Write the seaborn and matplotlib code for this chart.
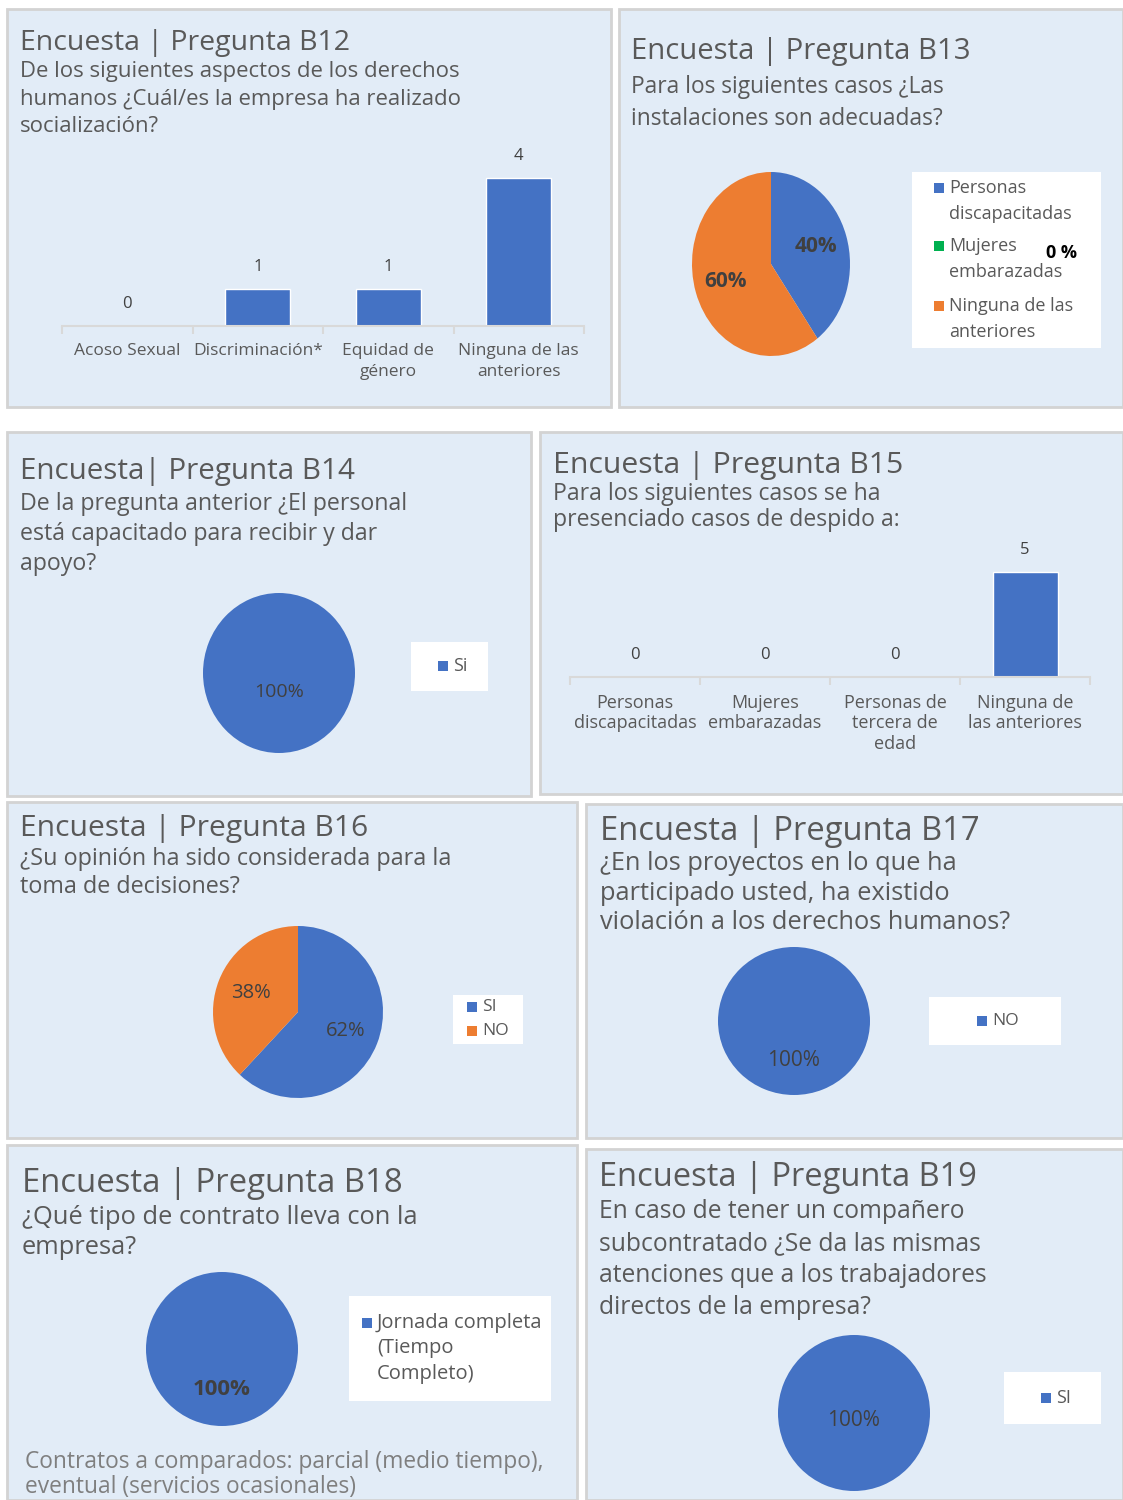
import matplotlib
matplotlib.use("Agg")
import matplotlib.pyplot as plt
import seaborn as sns
import numpy as np
from matplotlib.patches import Rectangle

# ---- datos ----
b12_categories = ["Acoso Sexual", "Discriminación*", "Equidad de\ngénero", "Ninguna de las\nanteriores"]
b12_values = [0, 1, 1, 4]

b13_labels = ["Personas\ndiscapacitadas", "Mujeres\nembarazadas", "Ninguna de las\nanteriores"]
b13_values = [40, 0, 60]

b14_labels = ["Si"]
b14_values = [100]

b15_categories = ["Personas\ndiscapacitadas", "Mujeres\nembarazadas", "Personas de\ntercera de\nedad", "Ninguna de\nlas anteriores"]
b15_values = [0, 0, 0, 5]

b16_labels = ["SI", "NO"]
b16_values = [62, 38]

b17_labels = ["NO"]
b17_values = [100]

b18_labels = ["Jornada completa\n(Tiempo\nCompleto)"]
b18_values = [100]

b19_labels = ["SI"]
b19_values = [100]

W, H = 1123, 1500
BLUE, ORANGE, GREEN = "#4472c4", "#ed7d31", "#00b050"
PANEL = "#e2ecf7"
EDGE = "#d3d3d3"
TXT = "#595959"
AXC = "#d9d9d9"

sns.set_theme(style="white")
plt.rcParams["font.family"] = ["Open Sans", "DejaVu Sans"]

fig = plt.figure(figsize=(W / 100, H / 100), dpi=100)
fig.patch.set_facecolor("white")


def fr(x0, y0, x1, y1):
    return [x0 / W, 1 - y1 / H, (x1 - x0) / W, (y1 - y0) / H]


def ftext(x, y, s, **kw):
    kw.setdefault("color", TXT)
    fig.text(x / W, 1 - y / H, s, **kw)


def box(x0, y0, x1, y1, face, edge="none", lw=0):
    fig.add_artist(Rectangle((x0 / W, 1 - y1 / H), (x1 - x0) / W, (y1 - y0) / H,
                             transform=fig.transFigure, facecolor=face,
                             edgecolor=edge, linewidth=lw, zorder=0))


def heading(x, ty, title, tsize, lines, sy, step, ssize):
    ftext(x, ty + 3, title, fontsize=tsize, va="center")
    for i, line in enumerate(lines):
        ftext(x, sy + 2 + i * step, line, fontsize=ssize, va="center")


def bar_chart(rect, cats, vals, ymax, fsize=12, pad=10, linespacing=1.2):
    ax = fig.add_axes(fr(*rect))
    sns.barplot(x=cats, y=vals, ax=ax, color=BLUE, saturation=1, width=0.5)
    ax.set_facecolor("none")
    ax.set_ylim(0, ymax)
    ax.set_xlim(-0.5, len(cats) - 0.5)
    for s in ["top", "right", "left"]:
        ax.spines[s].set_visible(False)
    ax.spines["bottom"].set_color(AXC)
    ax.spines["bottom"].set_linewidth(1.5)
    ax.set_yticks([])
    ax.set_xticks(np.arange(len(cats) + 1) - 0.5, minor=True)
    ax.tick_params(axis="x", which="major", length=0, labelsize=fsize, labelcolor=TXT, pad=pad)
    ax.tick_params(axis="x", which="minor", length=6, width=1.5, color=AXC, bottom=True)
    for t in ax.get_xticklabels():
        t.set_linespacing(linespacing)
    ax.bar_label(ax.containers[0], padding=10, fontsize=12, color="#404040")
    ax.set_xlabel("")
    ax.set_ylabel("")
    return ax


def pie_chart(cx, cy, rx, ry, vals, colors, pctdist, fsize=13, bold=False):
    ax = fig.add_axes(fr(cx - rx, cy - ry, cx + rx, cy + ry))
    wedges, _, _ = ax.pie(vals, colors=colors, startangle=90, counterclock=False,
                          autopct=lambda p: f"{p:.0f}%" if p > 0 else "",
                          pctdistance=pctdist, wedgeprops=dict(linewidth=0),
                          textprops=dict(color="#404040", fontsize=fsize,
                                         fontweight="bold" if bold else "normal"))
    ax.set_aspect("auto")
    ax.set_xlim(-1, 1)
    ax.set_ylim(-1, 1)
    return wedges


def legend(rect, mx, ys, labels, colors, fsize, step=24):
    # recuadro blanco con marcador cuadrado alineado a la primera línea
    box(*rect, face="white")
    for y, lab, c in zip(ys, labels, colors):
        box(mx, y - 5, mx + 10, y + 5, face=c)
        for i, line in enumerate(lab.split("\n")):
            ftext(mx + 15, y + i * step, line, fontsize=fsize, va="center")


# ---- paneles ----
panels = [(7, 9, 611, 407), (619, 9, 1123, 407), (7, 432, 531, 796), (540, 432, 1123, 794),
          (7, 802, 577, 1138), (586, 804, 1123, 1138), (7, 1145, 577, 1500), (586, 1149, 1123, 1500)]
for p in panels:
    box(*p, face=PANEL, edge=EDGE, lw=2)

# B12
heading(20, 40, "Encuesta | Pregunta B12", 20.5,
        ["De los siguientes aspectos de los derechos",
         "humanos ¿Cuál/es la empresa ha realizado",
         "socialización?"], 70, 27, 15.9)
bar_chart((62, 140, 584, 326), b12_categories, b12_values, 4 * 186 / 148,
          fsize=12.5, pad=12, linespacing=1.41)

# B13
heading(631, 48, "Encuesta | Pregunta B13", 21.1,
        ["Para los siguientes casos ¿Las", "instalaciones son adecuadas?"], 85, 32, 16.4)
pie_chart(771, 264, 79, 92, b13_values, [BLUE, GREEN, ORANGE], 0.6, fsize=15, bold=True)
legend((912, 172, 1101, 348), 934, [188, 246, 306], b13_labels, [BLUE, GREEN, ORANGE], 13, 26)
ftext(1061, 253, "0 %", fontsize=13, fontweight="bold", color="black", ha="center", va="center")

# B14
heading(20, 469, "Encuesta| Pregunta B14", 21.3,
        ["De la pregunta anterior ¿El personal",
         "está capacitado para recibir y dar",
         "apoyo?"], 502, 30, 16.7)
pie_chart(279, 673, 76, 80, b14_values, [BLUE], 0.24, fsize=14)
legend((411, 642, 488, 691), 438, [666], b14_labels, [BLUE], 13)

# B15
heading(553, 462, "Encuesta | Pregunta B15", 21.8,
        ["Para los siguientes casos se ha", "presenciado casos de despido a:"], 492, 26, 16.6)
bar_chart((570, 540, 1090, 677), b15_categories, b15_values, 5 * 137 / 105,
          fsize=13, pad=12, linespacing=1.2)

# B16
heading(20, 825, "Encuesta | Pregunta B16", 21.6,
        ["¿Su opinión ha sido considerada para la", "toma de decisiones?"], 857, 28, 16.8)
pie_chart(298, 1012, 85, 86, b16_values, [BLUE, ORANGE], 0.6, fsize=14.5)
legend((453, 995, 523, 1044), 467, [1007, 1031], b16_labels, [BLUE, ORANGE], 12.5)

# B17
heading(600, 828, "Encuesta | Pregunta B17", 23.6,
        ["¿En los proyectos en lo que ha", "participado usted, ha existido",
         "violación a los derechos humanos?"], 861, 30, 18.3)
pie_chart(794, 1021, 76, 74, b17_values, [BLUE], 0.54, fsize=15)
legend((929, 997, 1061, 1045), 977, [1021], b17_labels, [BLUE], 12.5)

# B18
heading(22, 1180, "Encuesta | Pregunta B18", 23.7,
        ["¿Qué tipo de contrato lleva con la", "empresa?"], 1215, 30, 18.4)
pie_chart(222, 1349, 76, 77, b18_values, [BLUE], 0.53, fsize=16, bold=True)
legend((349, 1296, 551, 1401), 362, [1323], b18_labels, [BLUE], 14.5, 25.5)
ftext(25, 1462, "Contratos a comparados: parcial (medio tiempo),", fontsize=16.4, color="#7f7f7f", va="center")
ftext(25, 1487, "eventual (servicios ocasionales)", fontsize=16.4, color="#7f7f7f", va="center")

# B19
heading(599, 1174, "Encuesta | Pregunta B19", 23.5,
        ["En caso de tener un compañero", "subcontratado ¿Se da las mismas",
         "atenciones que a los trabajadores", "directos de la empresa?"], 1210, 32, 17.7)
pie_chart(854, 1413, 76, 78, b19_values, [BLUE], 0.1, fsize=15)
legend((1004, 1372, 1101, 1424), 1041, [1398], b19_labels, [BLUE], 13)

fig.savefig("out.png", dpi=100, facecolor="white")
